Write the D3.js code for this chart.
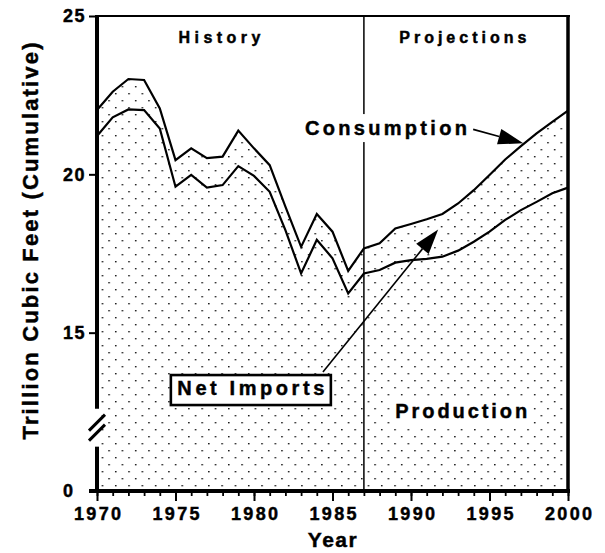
<!DOCTYPE html>
<html lang="en">
<head>
<meta charset="utf-8">
<script src="https://d3js.org/d3.v7.min.js"></script>
<style>
  body { margin: 0; background: #fff; }
  text { font-family: "Liberation Sans", Arial, sans-serif; font-weight: bold; fill: #000;
         stroke: #000; stroke-width: 0.45px; }
</style>
</head>
<body>
<svg id="chart" width="605" height="553"></svg>
<script>
// years 1970 - 2000, history up to 1987, projections after
var years = [1970, 1971, 1972, 1973, 1974, 1975, 1976, 1977, 1978, 1979,
             1980, 1981, 1982, 1983, 1984, 1985, 1986, 1987, 1988, 1989,
             1990, 1991, 1992, 1993, 1994, 1995, 1996, 1997, 1998, 1999, 2000];

// trillion cubic feet (cumulative): top line = consumption
var consumption = [22.03, 22.61, 23.01, 22.98, 22.08, 20.45, 20.82, 20.51, 20.56, 21.38,
                   20.82, 20.29, 18.98, 17.71, 18.75, 18.19, 16.95, 17.66, 17.82, 18.29,
                   18.43, 18.58, 18.75, 19.08, 19.50, 19.98, 20.47, 20.89, 21.29, 21.66, 22.01];

var production = [21.21, 21.80, 22.05, 22.03, 21.45, 19.61, 19.98, 19.58, 19.66, 20.26,
                  19.95, 19.45, 18.24, 16.87, 17.93, 17.35, 16.24, 16.87, 16.98, 17.21,
                  17.29, 17.33, 17.40, 17.59, 17.87, 18.19, 18.56, 18.87, 19.13, 19.40, 19.58];

var projectionStart = 1987;
var xMajorTicks = [1970, 1975, 1980, 1985, 1990, 1995, 2000];
// axis is broken: bottom of the scale stands for 0
var yTicks = [10, 15, 20, 25];
var yTickLabels = ["0", "15", "20", "25"];
var breakFrom = 11.4, breakTo = 12.6;

var svg = d3.select("#chart");

var x = d3.scaleLinear().domain([1970, 2000]).range([97, 568]);
var y = d3.scaleLinear().domain([10, 25]).range([491, 16]);

var rows = years.map(function (yr, i) {
    return { year: yr, prod: production[i], cons: consumption[i] };
});

// dotted fill
var defs = svg.append("defs");
var pat = defs.append("pattern")
    .attr("id", "dots")
    .attr("patternUnits", "userSpaceOnUse")
    .attr("width", 13.3)
    .attr("height", 14);
pat.append("rect").attr("x", 2).attr("y", 2).attr("width", 1.4).attr("height", 1.4).attr("fill", "#000");
pat.append("rect").attr("x", 8.65).attr("y", 9).attr("width", 1.4).attr("height", 1.4).attr("fill", "#000");

var prodArea = d3.area()
    .x(function (d) { return x(d.year); })
    .y0(y(10))
    .y1(function (d) { return y(d.prod); });

var importArea = d3.area()
    .x(function (d) { return x(d.year); })
    .y0(function (d) { return y(d.prod); })
    .y1(function (d) { return y(d.cons); });

svg.append("path").datum(rows).attr("d", prodArea).attr("fill", "url(#dots)");
svg.append("path").datum(rows).attr("d", importArea).attr("fill", "url(#dots)");

// history / projections divider
svg.append("line")
    .attr("x1", x(projectionStart)).attr("x2", x(projectionStart))
    .attr("y1", y(25)).attr("y2", y(10))
    .attr("stroke", "#000").attr("stroke-width", 1.5);

var prodLine = d3.line()
    .x(function (d) { return x(d.year); })
    .y(function (d) { return y(d.prod); });
var consLine = d3.line()
    .x(function (d) { return x(d.year); })
    .y(function (d) { return y(d.cons); });

svg.append("path").datum(rows).attr("d", prodLine)
    .attr("fill", "none").attr("stroke", "#000").attr("stroke-width", 2.2).attr("stroke-linejoin", "miter");
svg.append("path").datum(rows).attr("d", consLine)
    .attr("fill", "none").attr("stroke", "#000").attr("stroke-width", 2.2).attr("stroke-linejoin", "miter");

// frame
svg.append("line")
    .attr("x1", x(1970)).attr("x2", x(2000) + 2)
    .attr("y1", y(25)).attr("y2", y(25))
    .attr("stroke", "#000").attr("stroke-width", 2);
svg.append("line")
    .attr("x1", x(2000)).attr("x2", x(2000))
    .attr("y1", y(25)).attr("y2", y(10))
    .attr("stroke", "#000").attr("stroke-width", 3.5);

// x axis
var xMinor = svg.append("g")
    .attr("transform", "translate(0," + y(10) + ")")
    .call(d3.axisBottom(x).tickValues(years).tickSize(5).tickFormat(""));
xMinor.select(".domain").remove();
xMinor.selectAll("line").attr("stroke-width", 1.8);

var xAxis = svg.append("g")
    .attr("transform", "translate(0," + y(10) + ")")
    .call(d3.axisBottom(x).tickValues(xMajorTicks).tickSize(10).tickPadding(6).tickFormat(d3.format("d")));
xAxis.select(".domain").remove();
xAxis.selectAll("line").attr("stroke-width", 2);
xAxis.selectAll("text")
    .style("font-size", "18px")
    .attr("textLength", 47)
    .attr("lengthAdjust", "spacing");

// y axis
var yAxis = svg.append("g")
    .attr("transform", "translate(" + x(1970) + ",0)")
    .call(d3.axisLeft(y).tickValues(yTicks).tickSize(8)
        .tickFormat(function (d, i) { return yTickLabels[i]; }));
yAxis.select(".domain").remove();
yAxis.selectAll("line").attr("stroke-width", 2);
yAxis.selectAll("text")
    .style("font-size", "18px")
    .attr("text-anchor", "start")
    .attr("x", -34)
    .attr("letter-spacing", 1.5);

// thick axis lines, left one broken
svg.append("line")
    .attr("x1", x(1970) - 8).attr("x2", x(2000) + 2)
    .attr("y1", y(10)).attr("y2", y(10))
    .attr("stroke", "#000").attr("stroke-width", 4);
svg.append("line")
    .attr("x1", x(1970)).attr("x2", x(1970))
    .attr("y1", y(25) - 1).attr("y2", y(breakTo))
    .attr("stroke", "#000").attr("stroke-width", 4);
svg.append("line")
    .attr("x1", x(1970)).attr("x2", x(1970))
    .attr("y1", y(breakFrom)).attr("y2", y(10))
    .attr("stroke", "#000").attr("stroke-width", 4);

var bm = (y(breakFrom) + y(breakTo)) / 2;
[-5, 5].forEach(function (off) {
    svg.append("line")
        .attr("x1", x(1970) - 8).attr("y1", bm + off + 8)
        .attr("x2", x(1970) + 8).attr("y2", bm + off - 8)
        .attr("stroke", "#000").attr("stroke-width", 3);
});

// titles
svg.append("text")
    .attr("x", 333).attr("y", 547)
    .attr("text-anchor", "middle")
    .style("font-size", "21px")
    .attr("letter-spacing", 1.5)
    .text("Year");

svg.append("text")
    .attr("transform", "translate(38,241) rotate(-90)")
    .attr("text-anchor", "middle")
    .style("font-size", "22px")
    .attr("textLength", 397)
    .attr("lengthAdjust", "spacing")
    .text("Trillion Cubic Feet (Cumulative)");

// labels
function label(txt, yr, val, size, len, bg, pad) {
    var t = svg.append("text")
        .attr("x", x(yr)).attr("y", y(val))
        .attr("text-anchor", "middle")
        .style("font-size", size + "px")
        .attr("textLength", len)
        .attr("lengthAdjust", "spacing")
        .text(txt);
    if (bg) {
        var b = t.node().getBBox();
        svg.insert("rect", function () { return t.node(); })
            .attr("x", b.x - pad[0]).attr("y", b.y - pad[1])
            .attr("width", b.width + 2 * pad[0]).attr("height", b.height + 2 * pad[1])
            .attr("fill", "#fff");
    }
    return t;
}

label("History", 1977.8, 24.15, 16, 82, false);
label("Projections", 1993.3, 24.15, 16, 127, false);
label("Consumption", 1988.4, 21.24, 20, 162, true, [3, 3]);
label("Production", 1993.2, 12.3, 20, 132, true, [4, 2]);

// net imports box
var ni = label("Net Imports", 1979.8, 13.03, 20, 147, false);
var nb = ni.node().getBBox();
svg.insert("rect", function () { return ni.node(); })
    .attr("x", x(1979.8) - 80).attr("y", nb.y - 2)
    .attr("width", 160).attr("height", 30)
    .attr("fill", "#fff").attr("stroke", "#000").attr("stroke-width", 2.6);

// arrows
function arrow(from, to) {
    var x0 = x(from[0]), y0 = y(from[1]), x1 = x(to[0]), y1 = y(to[1]);
    var dx = x1 - x0, dy = y1 - y0, len = Math.sqrt(dx * dx + dy * dy);
    var ux = dx / len, uy = dy / len;
    var hl = 25, hw = 8;
    var bx = x1 - ux * hl, by = y1 - uy * hl;
    svg.append("line")
        .attr("x1", x0).attr("y1", y0).attr("x2", bx).attr("y2", by)
        .attr("stroke", "#000").attr("stroke-width", 1.6);
    svg.append("path")
        .attr("d", "M" + x1 + "," + y1 +
            "L" + (bx - uy * hw) + "," + (by + ux * hw) +
            "L" + (bx + uy * hw) + "," + (by - ux * hw) + "Z")
        .attr("fill", "#000");
}

arrow([1993.96, 21.42], [1997.15, 20.98]);
arrow([1984.39, 13.76], [1991.73, 18.26]);
</script>
</body>
</html>
